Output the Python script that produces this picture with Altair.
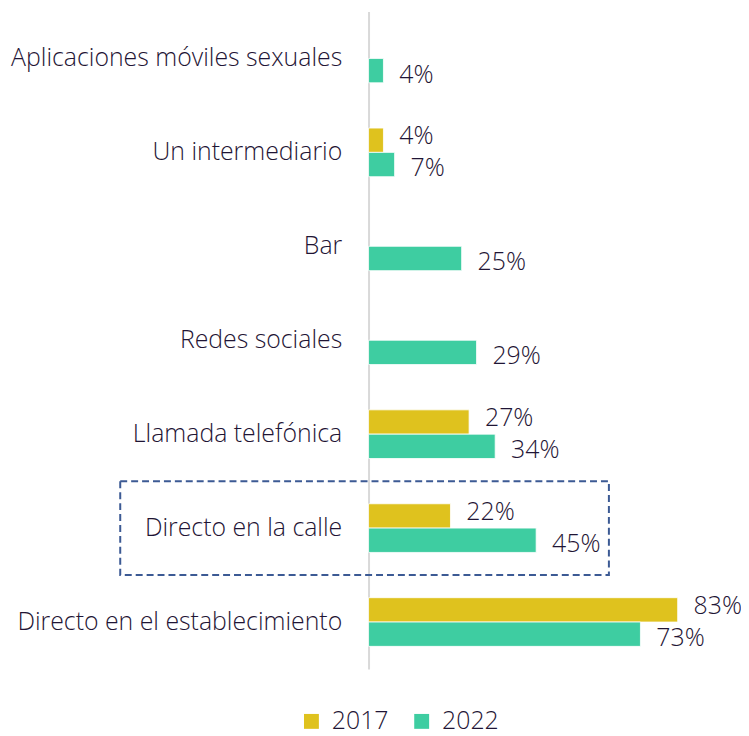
import altair as alt
import pandas as pd

categories = [
    "Aplicaciones móviles sexuales",
    "Un intermediario",
    "Bar",
    "Redes sociales",
    "Llamada telefónica",
    "Directo en la calle",
    "Directo en el establecimiento",
]
years = ["2017", "2022"]
vals_2017 = [None, 4, None, None, 27, 22, 83]
vals_2022 = [4, 7, 25, 29, 34, 45, 73]
highlight = ["Directo en la calle"]

rows = []
for c, a, b in zip(categories, vals_2017, vals_2022):
    if a is not None:
        rows.append({"cat": c, "year": "2017", "value": a, "label": f"{a}%"})
    if b is not None:
        rows.append({"cat": c, "year": "2022", "value": b, "label": f"{b}%"})
df = pd.DataFrame(rows)

FONT = "Open Sans"
TXT = "#1F1535"
FW = 300
FS = 25
colors = ["#DFC21E", "#3ECDA1"]

y_enc = alt.Y(
    "cat:N",
    sort=categories,
    scale=alt.Scale(domain=categories, paddingInner=0, paddingOuter=0),
    axis=alt.Axis(
        title=None, ticks=False, domainColor="#D9D9D9", domainWidth=2,
        labelFontSize=FS, labelColor=TXT, labelFont=FONT, labelFontWeight=FW,
        labelPadding=27, labelLimit=500,
    ),
)
yoff = alt.YOffset(
    "year:N", scale=alt.Scale(domain=years, paddingInner=0, paddingOuter=0.93)
)
x_enc = alt.X("value:Q", scale=alt.Scale(domain=[0, 100]), axis=None)

bars = alt.Chart(df).mark_bar(stroke="#FFFFFF", strokeWidth=0.8).encode(
    x=x_enc,
    y=y_enc,
    yOffset=yoff,
    color=alt.Color(
        "year:N",
        scale=alt.Scale(domain=years, range=colors),
        legend=alt.Legend(
            title=None, orient="none", legendX=-70, legendY=702,
            direction="horizontal", symbolType="square", symbolSize=225,
            symbolStrokeWidth=0, labelFontSize=FS, labelFont=FONT,
            labelFontWeight=FW, labelColor=TXT, labelOffset=8,
            columnPadding=20, padding=0,
        ),
    ),
)

def labels(year, dy):
    return alt.Chart(df).transform_filter(alt.datum.year == year).mark_text(
        align="left", baseline="middle", dx=16, dy=dy, fontSize=FS,
        font=FONT, fontWeight=FW, color=TXT,
    ).encode(x=x_enc, y=y_enc, yOffset=yoff, text="label:N")

box = alt.Chart(pd.DataFrame({"cat": highlight})).mark_rect(
    fillOpacity=0, stroke="#3C5A94", strokeWidth=2, strokeDash=[7, 4]
).encode(y=y_enc, x=alt.value(-250), x2=alt.value(242))

chart = alt.layer(bars, labels("2017", -4), labels("2022", 4), box).properties(
    width=375, height=662,
    autosize=alt.AutoSizeParams(type="none"),
    padding={"left": 363, "top": 1, "right": 0, "bottom": 72},
).configure_view(stroke=None)

chart.save("out.html", embed_options={"renderer": "svg", "actions": False})
